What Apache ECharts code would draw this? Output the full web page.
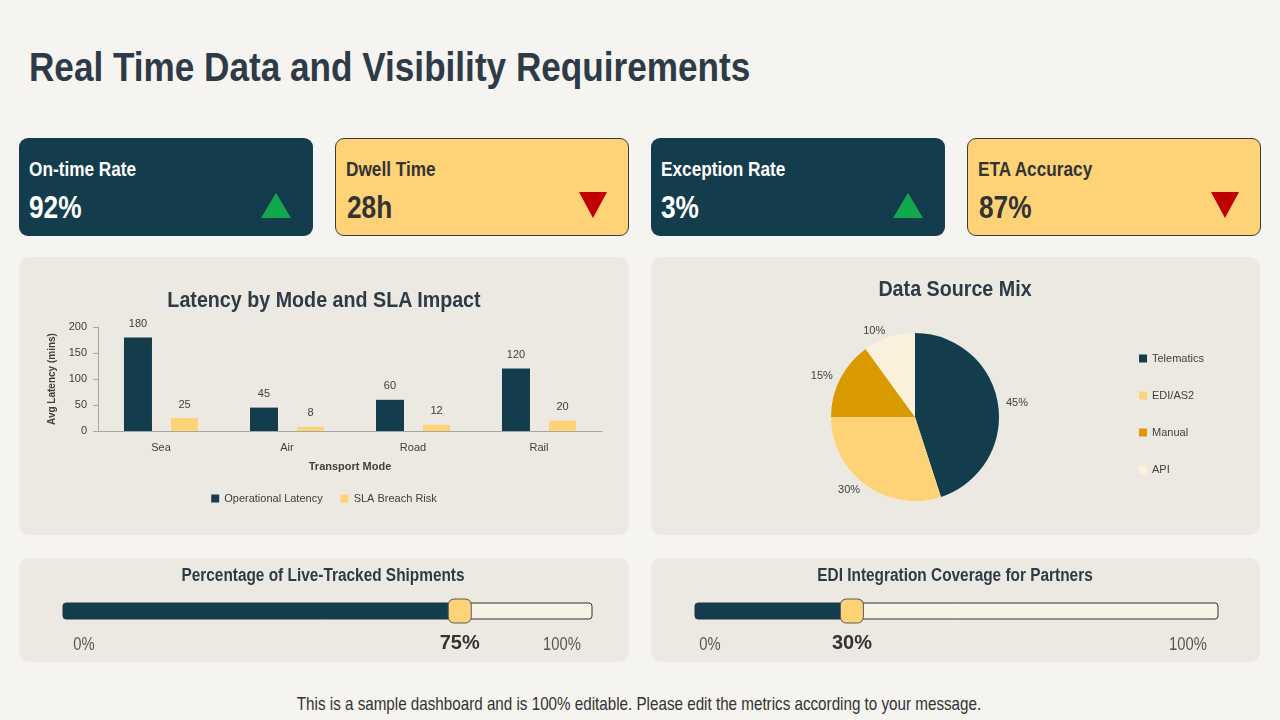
<!DOCTYPE html>
<html>
<head>
<meta charset="utf-8">
<script src="https://cdn.jsdelivr.net/npm/echarts@6/dist/echarts.min.js"></script>
<style>
  body { margin: 0; background: #f5f4f1; font-family: 'Liberation Sans', Arial, sans-serif; }
  #page { position: relative; width: 1280px; height: 720px; overflow: hidden; }
  /* Liberation Sans squeezed to look like Arial Narrow */
  .nar { position: absolute; white-space: nowrap; line-height: 1; transform: scaleX(0.82); transform-origin: 0 50%; }
  .nar.c { transform: translateX(-50%) scaleX(var(--sx, 0.82)); transform-origin: 50% 50%; }
  .title { left: 29px; top: 47px; font-size: 41px; font-weight: bold; color: #2e3b46; transform: scaleX(0.857); }
  .card { position: absolute; top: 138px; width: 294px; height: 98px; border-radius: 9px; box-sizing: border-box; }
  .card.dark { background: #133d4c; color: #fff; }
  .card.light { background: #fed377; color: #333; border: 1px solid #3a3a3a; }
  .card .lbl { left: 10px; top: 20px; font-size: 21px; font-weight: bold; }
  .card .val { left: 10px; top: 53px; font-size: 32px; font-weight: bold; }
  .card.light .lbl { left: 10px; top: 19px; }
  .card.light .val { left: 11px; top: 52px; }
  .up { position: absolute; right: 22px; top: 55px; width: 0; height: 0; border-left: 15px solid transparent; border-right: 15px solid transparent; border-bottom: 25px solid #12a84e; }
  .down { position: absolute; right: 21px; top: 53px; width: 0; height: 0; border-left: 14px solid transparent; border-right: 14px solid transparent; border-top: 26px solid #c00000; }
  .panel { position: absolute; background: #ece9e2; border-radius: 10px; }
  .ptitle { font-size: 22px; font-weight: bold; color: #2e3b46; --sx: 0.895; }
  .gtitle { font-size: 18px; font-weight: bold; color: #2e3b46; --sx: 0.855; }
  .tick { font-size: 18px; color: #555; }
  .foot { font-size: 19px; color: #333; --sx: 0.8; }
</style>
</head>
<body>
<div id="page">
  <div class="nar title">Real Time Data and Visibility Requirements</div>
  <div id="cards"></div>
  <div class="panel" id="bar" style="left:19px;top:257px;width:610px;height:278px"></div>
  <div class="panel" id="pie" style="left:651px;top:257px;width:609px;height:278px"></div>
  <div class="panel" id="prog1" style="left:19px;top:558px;width:610px;height:104px"></div>
  <div class="panel" id="prog2" style="left:651px;top:558px;width:609px;height:104px"></div>
  <div class="nar c ptitle" style="left:324px;top:289px">Latency by Mode and SLA Impact</div>
  <div class="nar c ptitle" style="left:955px;top:278px">Data Source Mix</div>
  <div class="nar c gtitle" id="pt1" style="left:323px;top:566px"></div>
  <div class="nar c gtitle" id="pt2" style="left:955px;top:566px"></div>
  <div class="nar c tick" style="left:84px;top:635px">0%</div>
  <div class="nar c tick" style="left:562px;top:635px">100%</div>
  <div class="nar c tick" style="left:710px;top:635px">0%</div>
  <div class="nar c tick" style="left:1188px;top:635px">100%</div>
  <div class="nar c foot" style="left:639px;top:694px">This is a sample dashboard and is 100% editable. Please edit the metrics according to your message.</div>
</div>
<script>
const FONT = "'Liberation Sans', Arial, sans-serif"
const DARK = '#133d4c'
const YELLOW = '#fed377'
const TXT = '#404040'

// KPI cards
const kpiNames = ['On-time Rate', 'Dwell Time', 'Exception Rate', 'ETA Accuracy']
const kpiValues = ['92%', '28h', '3%', '87%']
const kpiTrend = ['up', 'down', 'up', 'down']

// bar chart
const modes = ['Sea', 'Air', 'Road', 'Rail']
const operationalLatency = [180, 45, 60, 120]
const slaBreachRisk = [25, 8, 12, 20]

// pie chart
const sources = ['Telematics', 'EDI/AS2', 'Manual', 'API']
const sourceShare = [45, 30, 15, 10]
const sourceColors = [DARK, YELLOW, '#d99a00', '#fbf1dc']

// progress bars
const progTitles = ['Percentage of Live-Tracked Shipments', 'EDI Integration Coverage for Partners']
const progValues = [75, 30]

const cards = document.getElementById('cards')
kpiNames.forEach((name, i) => {
  const d = document.createElement('div')
  d.className = 'card ' + (i % 2 === 0 ? 'dark' : 'light')
  d.style.left = (19 + i * 316) + 'px'
  d.innerHTML = '<div class="nar lbl">' + name + '</div><div class="nar val">' + kpiValues[i] + '</div><div class="' + kpiTrend[i] + '"></div>'
  cards.appendChild(d)
})
document.getElementById('pt1').textContent = progTitles[0]
document.getElementById('pt2').textContent = progTitles[1]

const barChart = echarts.init(document.getElementById('bar'))
barChart.setOption({
  textStyle: { fontFamily: FONT },
  grid: { left: 79, right: 27, top: 70, bottom: 104 },
  legend: {
    top: 231,
    left: 'center',
    itemWidth: 8,
    itemHeight: 8,
    itemGap: 18,
    icon: 'rect',
    textStyle: { fontSize: 11, color: TXT, fontFamily: FONT },
    data: ['Operational Latency', 'SLA Breach Risk']
  },
  xAxis: {
    type: 'category',
    data: modes,
    name: 'Transport Mode',
    nameLocation: 'middle',
    nameGap: 30,
    nameTextStyle: { fontSize: 11, fontWeight: 'bold', color: TXT, fontFamily: FONT },
    axisLine: { lineStyle: { color: '#a6a6a6' } },
    axisTick: { lineStyle: { color: '#a6a6a6' } },
    axisLabel: { fontSize: 11, color: TXT, margin: 11 }
  },
  yAxis: {
    type: 'value',
    min: 0,
    max: 200,
    interval: 50,
    name: 'Avg Latency (mins)',
    nameLocation: 'middle',
    nameGap: 36,
    nameTextStyle: { fontSize: 10, fontWeight: 'bold', color: TXT, fontFamily: FONT },
    axisLine: { show: true, lineStyle: { color: '#a6a6a6' } },
    axisTick: { show: true, lineStyle: { color: '#a6a6a6' } },
    splitLine: { show: false },
    axisLabel: { fontSize: 11, color: TXT, margin: 11 }
  },
  series: [
    {
      name: 'Operational Latency',
      type: 'bar',
      data: operationalLatency,
      barWidth: 28,
      barGap: '68%',
      itemStyle: { color: DARK },
      label: { show: true, position: 'top', distance: 8, fontSize: 11, color: TXT }
    },
    {
      name: 'SLA Breach Risk',
      type: 'bar',
      data: slaBreachRisk,
      barWidth: 27,
      itemStyle: { color: YELLOW },
      label: { show: true, position: 'top', distance: 8, fontSize: 11, color: TXT }
    }
  ]
})

const pieChart = echarts.init(document.getElementById('pie'))
pieChart.setOption({
  textStyle: { fontFamily: FONT },
  legend: {
    orient: 'vertical',
    left: 483,
    top: 91,
    itemWidth: 8,
    itemHeight: 8,
    itemGap: 26,
    icon: 'rect',
    textStyle: { fontSize: 11, color: TXT, fontFamily: FONT },
    data: sources
  },
  series: [
    {
      type: 'pie',
      center: [264, 160],
      radius: 84,
      startAngle: 90,
      clockwise: true,
      data: sources.map((name, i) => ({ name: name, value: sourceShare[i], itemStyle: { color: sourceColors[i] } })),
      label: { show: true, position: 'outside', formatter: '{c}%', fontSize: 11, color: TXT, distanceToLabelLine: 2 },
      labelLine: { show: false, length: 6, length2: 0 },
      emphasis: { disabled: true }
    }
  ]
})

const progIds = ['prog1', 'prog2']
progIds.forEach((id, i) => {
  const chart = echarts.init(document.getElementById(id))
  chart.setOption({
    textStyle: { fontFamily: FONT },
    grid: { left: 44, right: i === 0 ? 37 : 42, top: 45, height: 16 },
    xAxis: { type: 'value', min: 0, max: 100, show: false },
    yAxis: { type: 'category', data: [''], show: false },
    series: [
      {
        type: 'bar',
        data: [progValues[i]],
        barWidth: 16,
        showBackground: true,
        backgroundStyle: { color: '#f6f2e6', borderColor: '#333', borderWidth: 1, borderRadius: 3 },
        itemStyle: { color: DARK, borderRadius: 3 },
        silent: true
      },
      {
        type: 'scatter',
        data: [[progValues[i], 0]],
        symbol: 'roundRect',
        symbolSize: [23, 24],
        itemStyle: { color: YELLOW, opacity: 1, borderColor: '#5a5a5a', borderWidth: 1 },
        label: {
          show: true,
          position: 'bottom',
          distance: 10,
          formatter: (p) => p.value[0] + '%',
          fontSize: 20,
          fontWeight: 'bold',
          color: '#333',
          fontFamily: FONT
        },
        silent: true
      }
    ]
  })
})
</script>
</body>
</html>
